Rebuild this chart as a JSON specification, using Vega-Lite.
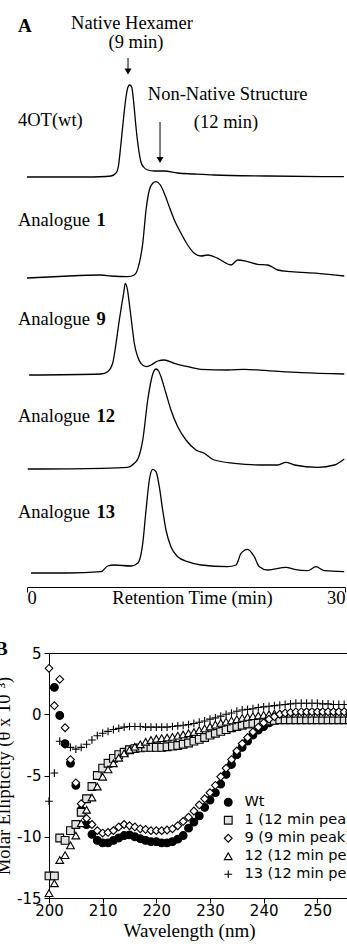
{
  "$schema": "https://vega.github.io/schema/vega-lite/v6.json",
  "background": "white",
  "padding": {"left": -6, "top": 0, "right": 0, "bottom": 0},
  "config": {"view": {"stroke": null}},
  "datasets": {
    "chrom": [
      {"trace":"wt","t":0,"I":0},{"trace":"wt","t":5.09,"I":0},{"trace":"wt","t":7.45,"I":0.5},{"trace":"wt","t":7.92,"I":1},{"trace":"wt","t":8.4,"I":4},{"trace":"wt","t":8.61,"I":10},{"trace":"wt","t":8.87,"I":34},{"trace":"wt","t":9.12,"I":60},{"trace":"wt","t":9.34,"I":80},{"trace":"wt","t":9.53,"I":90},{"trace":"wt","t":9.69,"I":92},{"trace":"wt","t":9.88,"I":90},{"trace":"wt","t":10.07,"I":74},{"trace":"wt","t":10.28,"I":50},{"trace":"wt","t":10.5,"I":30},{"trace":"wt","t":10.75,"I":15},{"trace":"wt","t":11.0,"I":10},{"trace":"wt","t":11.39,"I":7},{"trace":"wt","t":12.0,"I":6},{"trace":"wt","t":12.95,"I":6},{"trace":"wt","t":14.2,"I":4},{"trace":"wt","t":15.78,"I":3},{"trace":"wt","t":17.64,"I":2},{"trace":"wt","t":22.74,"I":1},{"trace":"wt","t":29.9,"I":0.3},
      {"trace":"1","t":0,"I":0},{"trace":"1","t":3,"I":1.5},{"trace":"1","t":6.98,"I":3},{"trace":"1","t":7.92,"I":2},{"trace":"1","t":9.5,"I":1.3},{"trace":"1","t":10.12,"I":3},{"trace":"1","t":10.59,"I":14.7},{"trace":"1","t":10.92,"I":34.7},{"trace":"1","t":11.23,"I":68},{"trace":"1","t":11.54,"I":88},{"trace":"1","t":11.86,"I":94.7},{"trace":"1","t":12.17,"I":96.3},{"trace":"1","t":12.58,"I":93},{"trace":"1","t":12.95,"I":84.7},{"trace":"1","t":13.42,"I":71.3},{"trace":"1","t":13.9,"I":58},{"trace":"1","t":14.53,"I":44.7},{"trace":"1","t":15.16,"I":33},{"trace":"1","t":15.78,"I":24.7},{"trace":"1","t":16.42,"I":22},{"trace":"1","t":17.05,"I":23},{"trace":"1","t":17.99,"I":19.7},{"trace":"1","t":19.25,"I":13},{"trace":"1","t":19.88,"I":18},{"trace":"1","t":20.82,"I":16.3},{"trace":"1","t":21.76,"I":13.7},{"trace":"1","t":22.71,"I":13},{"trace":"1","t":23.65,"I":8},{"trace":"1","t":24.9,"I":6.3},{"trace":"1","t":27.42,"I":4.7},{"trace":"1","t":29.93,"I":2},
      {"trace":"9","t":0.2,"I":0},{"trace":"9","t":6.98,"I":1},{"trace":"9","t":7.61,"I":3.3},{"trace":"9","t":8.08,"I":11.7},{"trace":"9","t":8.4,"I":31.7},{"trace":"9","t":8.71,"I":55},{"trace":"9","t":8.93,"I":70},{"trace":"9","t":9.12,"I":82},{"trace":"9","t":9.27,"I":91.7},{"trace":"9","t":9.48,"I":85},{"trace":"9","t":9.67,"I":70},{"trace":"9","t":9.88,"I":52},{"trace":"9","t":10.12,"I":32},{"trace":"9","t":10.44,"I":18.3},{"trace":"9","t":10.75,"I":11.7},{"trace":"9","t":11.23,"I":8.3},{"trace":"9","t":11.7,"I":10},{"trace":"9","t":12.33,"I":14},{"trace":"9","t":12.95,"I":15},{"trace":"9","t":13.9,"I":11.7},{"trace":"9","t":15.16,"I":8.3},{"trace":"9","t":16.42,"I":5.7},{"trace":"9","t":18.93,"I":5},{"trace":"9","t":20.5,"I":5.7},{"trace":"9","t":22.7,"I":4.3},{"trace":"9","t":25.85,"I":2.3},{"trace":"9","t":29.93,"I":1},
      {"trace":"12","t":0.07,"I":0},{"trace":"12","t":6.98,"I":0.7},{"trace":"12","t":9.5,"I":1.7},{"trace":"12","t":10.12,"I":5.7},{"trace":"12","t":10.5,"I":11},{"trace":"12","t":10.75,"I":20},{"trace":"12","t":10.92,"I":29},{"trace":"12","t":11.39,"I":69},{"trace":"12","t":11.7,"I":88},{"trace":"12","t":11.93,"I":97},{"trace":"12","t":12.17,"I":100},{"trace":"12","t":12.41,"I":98},{"trace":"12","t":12.64,"I":92.3},{"trace":"12","t":13.11,"I":75.7},{"trace":"12","t":13.58,"I":59},{"trace":"12","t":14.22,"I":42.3},{"trace":"12","t":15.0,"I":29},{"trace":"12","t":15.94,"I":19},{"trace":"12","t":16.73,"I":15.7},{"trace":"12","t":17.36,"I":10.7},{"trace":"12","t":17.67,"I":9},{"trace":"12","t":19.56,"I":5.7},{"trace":"12","t":22.08,"I":4},{"trace":"12","t":23.65,"I":4},{"trace":"12","t":24.43,"I":6.7},{"trace":"12","t":25.22,"I":4},{"trace":"12","t":27.42,"I":1.7},{"trace":"12","t":29.0,"I":4},{"trace":"12","t":29.93,"I":10},
      {"trace":"13","t":0.38,"I":0},{"trace":"13","t":3.84,"I":0},{"trace":"13","t":6.98,"I":1.3},{"trace":"13","t":7.61,"I":7},{"trace":"13","t":8.24,"I":8},{"trace":"13","t":9.81,"I":7},{"trace":"13","t":10.44,"I":9.7},{"trace":"13","t":10.92,"I":29.7},{"trace":"13","t":11.23,"I":63},{"trace":"13","t":11.54,"I":93},{"trace":"13","t":11.86,"I":103.7},{"trace":"13","t":12.17,"I":101.3},{"trace":"13","t":12.48,"I":86.3},{"trace":"13","t":12.8,"I":63},{"trace":"13","t":13.11,"I":43},{"trace":"13","t":13.58,"I":26.3},{"trace":"13","t":14.22,"I":16.3},{"trace":"13","t":15.16,"I":11.3},{"trace":"13","t":16.42,"I":8},{"trace":"13","t":18.93,"I":6.3},{"trace":"13","t":19.72,"I":8},{"trace":"13","t":20.19,"I":19.7},{"trace":"13","t":20.82,"I":23.7},{"trace":"13","t":21.44,"I":16.3},{"trace":"13","t":21.92,"I":6.3},{"trace":"13","t":22.71,"I":3},{"trace":"13","t":24.43,"I":5.7},{"trace":"13","t":25.22,"I":3.7},{"trace":"13","t":26.48,"I":2.3},{"trace":"13","t":27.26,"I":6.3},{"trace":"13","t":28.05,"I":2.3},{"trace":"13","t":29.93,"I":1.3}
    ],
    "chromLabels": [
      {"trace":"wt","name":"4OT(wt)","num":"","t":-0.85,"tn":6.55,"I":51},
      {"trace":"1","name":"Analogue","num":"1","t":-0.85,"tn":6.55,"I":52},
      {"trace":"9","name":"Analogue","num":"9","t":-0.85,"tn":6.55,"I":50},
      {"trace":"12","name":"Analogue","num":"12","t":-0.85,"tn":6.55,"I":47},
      {"trace":"13","name":"Analogue","num":"13","t":-0.85,"tn":6.55,"I":55}
    ],
    "notes": [
      {"text":"Native Hexamer","t":9.9,"I":148.5},
      {"text":"(9 min)","t":10.28,"I":129.5},
      {"text":"Non-Native Structure","t":18.93,"I":77},
      {"text":"(12 min)","t":18.77,"I":49}
    ],
    "arrows": [
      {"t":9.53,"top":119,"head":105.5},
      {"t":12.55,"top":55,"head":17}
    ],
    "cd": [
      {"s":"Wt","w":201,"v":2.2},{"s":"Wt","w":202,"v":-0.1},{"s":"Wt","w":203,"v":-2.4},{"s":"Wt","w":204,"v":-4.0},{"s":"Wt","w":205,"v":-5.8},{"s":"Wt","w":206,"v":-7.8},{"s":"Wt","w":207,"v":-9.0},{"s":"Wt","w":208,"v":-9.8},{"s":"Wt","w":209,"v":-10.3},{"s":"Wt","w":210,"v":-10.5},{"s":"Wt","w":211,"v":-10.5},{"s":"Wt","w":212,"v":-10.3},{"s":"Wt","w":213,"v":-10.1},{"s":"Wt","w":214,"v":-9.9},{"s":"Wt","w":215,"v":-9.85},{"s":"Wt","w":216,"v":-10.0},{"s":"Wt","w":217,"v":-10.15},{"s":"Wt","w":218,"v":-10.3},{"s":"Wt","w":219,"v":-10.4},{"s":"Wt","w":220,"v":-10.4},{"s":"Wt","w":221,"v":-10.5},{"s":"Wt","w":222,"v":-10.5},{"s":"Wt","w":223,"v":-10.4},{"s":"Wt","w":224,"v":-10.2},{"s":"Wt","w":225,"v":-9.9},{"s":"Wt","w":226,"v":-9.3},{"s":"Wt","w":227,"v":-8.8},{"s":"Wt","w":228,"v":-8.3},{"s":"Wt","w":229,"v":-7.6},{"s":"Wt","w":230,"v":-7.0},{"s":"Wt","w":231,"v":-6.4},{"s":"Wt","w":232,"v":-5.7},{"s":"Wt","w":233,"v":-4.9},{"s":"Wt","w":234,"v":-4.1},{"s":"Wt","w":235,"v":-3.3},{"s":"Wt","w":236,"v":-2.7},{"s":"Wt","w":237,"v":-2.2},{"s":"Wt","w":238,"v":-1.7},{"s":"Wt","w":239,"v":-1.3},{"s":"Wt","w":240,"v":-1.0},{"s":"Wt","w":241,"v":-0.7},{"s":"Wt","w":242,"v":-0.45},{"s":"Wt","w":243,"v":-0.3},{"s":"Wt","w":244,"v":-0.15},{"s":"Wt","w":245,"v":-0.05},{"s":"Wt","w":246,"v":0.0},{"s":"Wt","w":247,"v":0.05},{"s":"Wt","w":248,"v":0.1},{"s":"Wt","w":249,"v":0.1},{"s":"Wt","w":250,"v":0.1},{"s":"Wt","w":251,"v":0.1},{"s":"Wt","w":252,"v":0.1},{"s":"Wt","w":253,"v":0.1},{"s":"Wt","w":254,"v":0.1},{"s":"Wt","w":255,"v":0.1},{"s":"Wt","w":256,"v":0.1},{"s":"Wt","w":257,"v":0.1},
      {"s":"1","w":200,"v":-13.2},{"s":"1","w":201,"v":-13.2},{"s":"1","w":202,"v":-10.1},{"s":"1","w":203,"v":-10.3},{"s":"1","w":204,"v":-9.5},{"s":"1","w":205,"v":-9.0},{"s":"1","w":206,"v":-8.0},{"s":"1","w":207,"v":-6.9},{"s":"1","w":208,"v":-5.9},{"s":"1","w":209,"v":-5.0},{"s":"1","w":210,"v":-4.4},{"s":"1","w":211,"v":-4.0},{"s":"1","w":212,"v":-3.6},{"s":"1","w":213,"v":-3.3},{"s":"1","w":214,"v":-3.1},{"s":"1","w":215,"v":-2.9},{"s":"1","w":216,"v":-2.8},{"s":"1","w":217,"v":-2.75},{"s":"1","w":218,"v":-2.7},{"s":"1","w":219,"v":-2.7},{"s":"1","w":220,"v":-2.7},{"s":"1","w":221,"v":-2.7},{"s":"1","w":222,"v":-2.65},{"s":"1","w":223,"v":-2.6},{"s":"1","w":224,"v":-2.55},{"s":"1","w":225,"v":-2.45},{"s":"1","w":226,"v":-2.35},{"s":"1","w":227,"v":-2.2},{"s":"1","w":228,"v":-2.05},{"s":"1","w":229,"v":-1.9},{"s":"1","w":230,"v":-1.7},{"s":"1","w":231,"v":-1.55},{"s":"1","w":232,"v":-1.4},{"s":"1","w":233,"v":-1.25},{"s":"1","w":234,"v":-1.1},{"s":"1","w":235,"v":-1.0},{"s":"1","w":236,"v":-0.9},{"s":"1","w":237,"v":-0.8},{"s":"1","w":238,"v":-0.75},{"s":"1","w":239,"v":-0.7},{"s":"1","w":240,"v":-0.62},{"s":"1","w":241,"v":-0.55},{"s":"1","w":242,"v":-0.5},{"s":"1","w":243,"v":-0.45},{"s":"1","w":244,"v":-0.45},{"s":"1","w":245,"v":-0.45},{"s":"1","w":246,"v":-0.45},{"s":"1","w":247,"v":-0.45},{"s":"1","w":248,"v":-0.45},{"s":"1","w":249,"v":-0.45},{"s":"1","w":250,"v":-0.45},{"s":"1","w":251,"v":-0.45},{"s":"1","w":252,"v":-0.45},{"s":"1","w":253,"v":-0.45},{"s":"1","w":254,"v":-0.45},{"s":"1","w":255,"v":-0.45},{"s":"1","w":256,"v":-0.45},{"s":"1","w":257,"v":-0.45},
      {"s":"12","w":200,"v":-14.6},{"s":"12","w":201,"v":-13.8},{"s":"12","w":202,"v":-11.9},{"s":"12","w":203,"v":-11.5},{"s":"12","w":204,"v":-10.7},{"s":"12","w":205,"v":-9.9},{"s":"12","w":206,"v":-8.9},{"s":"12","w":207,"v":-7.8},{"s":"12","w":208,"v":-6.8},{"s":"12","w":209,"v":-5.9},{"s":"12","w":210,"v":-5.1},{"s":"12","w":211,"v":-4.5},{"s":"12","w":212,"v":-4.0},{"s":"12","w":213,"v":-3.55},{"s":"12","w":214,"v":-3.2},{"s":"12","w":215,"v":-2.9},{"s":"12","w":216,"v":-2.65},{"s":"12","w":217,"v":-2.45},{"s":"12","w":218,"v":-2.25},{"s":"12","w":219,"v":-2.1},{"s":"12","w":220,"v":-2.0},{"s":"12","w":221,"v":-1.95},{"s":"12","w":222,"v":-1.9},{"s":"12","w":223,"v":-1.85},{"s":"12","w":224,"v":-1.75},{"s":"12","w":225,"v":-1.65},{"s":"12","w":226,"v":-1.55},{"s":"12","w":227,"v":-1.45},{"s":"12","w":228,"v":-1.3},{"s":"12","w":229,"v":-1.15},{"s":"12","w":230,"v":-1.0},{"s":"12","w":231,"v":-0.85},{"s":"12","w":232,"v":-0.7},{"s":"12","w":233,"v":-0.6},{"s":"12","w":234,"v":-0.5},{"s":"12","w":235,"v":-0.4},{"s":"12","w":236,"v":-0.3},{"s":"12","w":237,"v":-0.22},{"s":"12","w":238,"v":-0.15},{"s":"12","w":239,"v":-0.1},{"s":"12","w":240,"v":-0.05},{"s":"12","w":241,"v":0.0},{"s":"12","w":242,"v":0.05},{"s":"12","w":243,"v":0.05},{"s":"12","w":244,"v":0.05},{"s":"12","w":245,"v":0.05},{"s":"12","w":246,"v":0.05},{"s":"12","w":247,"v":0.05},{"s":"12","w":248,"v":0.05},{"s":"12","w":249,"v":0.05},{"s":"12","w":250,"v":0.05},{"s":"12","w":251,"v":0.05},{"s":"12","w":252,"v":0.05},{"s":"12","w":253,"v":0.05},{"s":"12","w":254,"v":0.05},{"s":"12","w":255,"v":0.05},{"s":"12","w":256,"v":0.05},{"s":"12","w":257,"v":0.05},
      {"s":"9","w":200,"v":3.75},{"s":"9","w":201,"v":0.7},{"s":"9","w":202,"v":2.85},{"s":"9","w":203,"v":-1.1},{"s":"9","w":204,"v":-3.7},{"s":"9","w":205,"v":-5.6},{"s":"9","w":206,"v":-7.3},{"s":"9","w":207,"v":-8.5},{"s":"9","w":208,"v":-9.0},{"s":"9","w":209,"v":-9.5},{"s":"9","w":210,"v":-9.7},{"s":"9","w":211,"v":-9.65},{"s":"9","w":212,"v":-9.5},{"s":"9","w":213,"v":-9.2},{"s":"9","w":214,"v":-9.0},{"s":"9","w":215,"v":-9.1},{"s":"9","w":216,"v":-9.2},{"s":"9","w":217,"v":-9.35},{"s":"9","w":218,"v":-9.4},{"s":"9","w":219,"v":-9.5},{"s":"9","w":220,"v":-9.5},{"s":"9","w":221,"v":-9.5},{"s":"9","w":222,"v":-9.45},{"s":"9","w":223,"v":-9.35},{"s":"9","w":224,"v":-9.1},{"s":"9","w":225,"v":-8.75},{"s":"9","w":226,"v":-8.4},{"s":"9","w":227,"v":-7.9},{"s":"9","w":228,"v":-7.4},{"s":"9","w":229,"v":-6.9},{"s":"9","w":230,"v":-6.4},{"s":"9","w":231,"v":-5.8},{"s":"9","w":232,"v":-5.1},{"s":"9","w":233,"v":-4.4},{"s":"9","w":234,"v":-3.7},{"s":"9","w":235,"v":-3.0},{"s":"9","w":236,"v":-2.4},{"s":"9","w":237,"v":-1.9},{"s":"9","w":238,"v":-1.45},{"s":"9","w":239,"v":-1.05},{"s":"9","w":240,"v":-0.7},{"s":"9","w":241,"v":-0.4},{"s":"9","w":242,"v":-0.2},{"s":"9","w":243,"v":0.0},{"s":"9","w":244,"v":0.1},{"s":"9","w":245,"v":0.15},{"s":"9","w":246,"v":0.2},{"s":"9","w":247,"v":0.2},{"s":"9","w":248,"v":0.2},{"s":"9","w":249,"v":0.2},{"s":"9","w":250,"v":0.2},{"s":"9","w":251,"v":0.2},{"s":"9","w":252,"v":0.2},{"s":"9","w":253,"v":0.2},{"s":"9","w":254,"v":0.2},{"s":"9","w":255,"v":0.2},{"s":"9","w":256,"v":0.2},{"s":"9","w":257,"v":0.2},
      {"s":"13","w":200,"v":-7.1},{"s":"13","w":201,"v":-4.8},{"s":"13","w":202,"v":-2.2},{"s":"13","w":203,"v":-2.5},{"s":"13","w":204,"v":-2.7},{"s":"13","w":205,"v":-2.85},{"s":"13","w":206,"v":-2.7},{"s":"13","w":207,"v":-2.45},{"s":"13","w":208,"v":-2.1},{"s":"13","w":209,"v":-1.75},{"s":"13","w":210,"v":-1.55},{"s":"13","w":211,"v":-1.4},{"s":"13","w":212,"v":-1.25},{"s":"13","w":213,"v":-1.15},{"s":"13","w":214,"v":-1.05},{"s":"13","w":215,"v":-1.0},{"s":"13","w":216,"v":-1.0},{"s":"13","w":217,"v":-1.0},{"s":"13","w":218,"v":-1.05},{"s":"13","w":219,"v":-1.05},{"s":"13","w":220,"v":-1.05},{"s":"13","w":221,"v":-1.05},{"s":"13","w":222,"v":-1.05},{"s":"13","w":223,"v":-1.0},{"s":"13","w":224,"v":-0.95},{"s":"13","w":225,"v":-0.9},{"s":"13","w":226,"v":-0.85},{"s":"13","w":227,"v":-0.75},{"s":"13","w":228,"v":-0.65},{"s":"13","w":229,"v":-0.55},{"s":"13","w":230,"v":-0.4},{"s":"13","w":231,"v":-0.3},{"s":"13","w":232,"v":-0.15},{"s":"13","w":233,"v":0.0},{"s":"13","w":234,"v":0.1},{"s":"13","w":235,"v":0.25},{"s":"13","w":236,"v":0.35},{"s":"13","w":237,"v":0.4},{"s":"13","w":238,"v":0.45},{"s":"13","w":239,"v":0.55},{"s":"13","w":240,"v":0.6},{"s":"13","w":241,"v":0.65},{"s":"13","w":242,"v":0.7},{"s":"13","w":243,"v":0.75},{"s":"13","w":244,"v":0.8},{"s":"13","w":245,"v":0.85},{"s":"13","w":246,"v":0.9},{"s":"13","w":247,"v":0.9},{"s":"13","w":248,"v":0.9},{"s":"13","w":249,"v":0.9},{"s":"13","w":250,"v":0.9},{"s":"13","w":251,"v":0.85},{"s":"13","w":252,"v":0.85},{"s":"13","w":253,"v":0.8},{"s":"13","w":254,"v":0.8},{"s":"13","w":255,"v":0.8},{"s":"13","w":256,"v":0.8},{"s":"13","w":257,"v":0.8}
    ]
  },
  "spacing": 66,
  "bounds": "flush",
  "vconcat": [
    {
      "width": 296,
      "height": 587,
      "encoding": {
        "x": {
          "field": "t", "type": "quantitative",
          "scale": {"domain": [0, 30], "range": [-22, 296], "nice": false, "zero": false},
          "axis": {
            "values": [0, 30], "title": "Retention Time (min)", "grid": false,
            "titleFont": "Liberation Serif", "titleFontSize": 18.5, "titleFontWeight": "normal", "titleColor": "black",
            "titleX": 143, "titleY": 16, "titleBaseline": "alphabetic", "titleAlign": "center",
            "labelFont": "Liberation Serif", "labelFontSize": 18.5, "labelColor": "black", "labelFlush": true,
            "labelBaseline": "alphabetic", "labelPadding": 11, "tickSize": 5, "tickColor": "black",
            "domainColor": "black", "labelOverlap": false
          }
        }
      },
      "layer": [
        {
          "encoding": {"y": {"field": "I", "type": "quantitative", "scale": {"domain": [-410, 177], "nice": false, "zero": false}, "axis": null}},
          "layer": [
            {"data": {"name": "chrom"}, "transform": [{"filter": "datum.trace === 'wt'"}], "mark": {"type": "line", "color": "black", "strokeWidth": 1.3, "interpolate": "monotone"}},
            {"data": {"name": "chromLabels"}, "transform": [{"filter": "datum.trace === 'wt'"}], "mark": {"type": "text", "align": "left", "baseline": "alphabetic", "font": "Liberation Serif", "fontSize": 18.5, "color": "black"}, "encoding": {"text": {"field": "name"}}},
            {"data": {"name": "notes"}, "mark": {"type": "text", "align": "center", "baseline": "alphabetic", "font": "Liberation Serif", "fontSize": 18.5, "color": "black"}, "encoding": {"text": {"field": "text"}}},
            {"data": {"values": [{"t": -0.85, "I": 145, "label": "A"}]}, "mark": {"type": "text", "align": "left", "baseline": "alphabetic", "font": "Liberation Serif", "fontSize": 19, "fontWeight": "bold", "color": "black"}, "encoding": {"text": {"field": "label"}}},
            {"data": {"name": "arrows"}, "mark": {"type": "rule", "color": "black", "strokeWidth": 1}, "encoding": {"y": {"field": "top", "type": "quantitative", "scale": {"domain": [-410, 177], "nice": false, "zero": false}, "axis": null}, "y2": {"field": "head"}}},
            {"data": {"name": "arrows"}, "mark": {"type": "point", "shape": "triangle-down", "filled": true, "color": "black", "size": 50, "opacity": 1}, "encoding": {"y": {"field": "head", "type": "quantitative", "scale": {"domain": [-410, 177], "nice": false, "zero": false}, "axis": null}}}
          ]
        },
        {
          "encoding": {"y": {"field": "I", "type": "quantitative", "scale": {"domain": [-309, 278], "nice": false, "zero": false}, "axis": null}},
          "layer": [
            {"data": {"name": "chrom"}, "transform": [{"filter": "datum.trace === '1'"}], "mark": {"type": "line", "color": "black", "strokeWidth": 1.3, "interpolate": "monotone"}},
            {"data": {"name": "chromLabels"}, "transform": [{"filter": "datum.trace === '1'"}], "mark": {"type": "text", "align": "left", "baseline": "alphabetic", "font": "Liberation Serif", "fontSize": 18.5, "color": "black"}, "encoding": {"text": {"field": "name"}}},
            {"data": {"name": "chromLabels"}, "transform": [{"filter": "datum.trace === '1'"}], "mark": {"type": "text", "align": "left", "baseline": "alphabetic", "font": "Liberation Serif", "fontSize": 18.5, "fontWeight": "bold", "color": "black"}, "encoding": {"x": {"field": "tn", "type": "quantitative"}, "text": {"field": "num"}}}
          ]
        },
        {
          "encoding": {"y": {"field": "I", "type": "quantitative", "scale": {"domain": [-212, 375], "nice": false, "zero": false}, "axis": null}},
          "layer": [
            {"data": {"name": "chrom"}, "transform": [{"filter": "datum.trace === '9'"}], "mark": {"type": "line", "color": "black", "strokeWidth": 1.3, "interpolate": "monotone"}},
            {"data": {"name": "chromLabels"}, "transform": [{"filter": "datum.trace === '9'"}], "mark": {"type": "text", "align": "left", "baseline": "alphabetic", "font": "Liberation Serif", "fontSize": 18.5, "color": "black"}, "encoding": {"text": {"field": "name"}}},
            {"data": {"name": "chromLabels"}, "transform": [{"filter": "datum.trace === '9'"}], "mark": {"type": "text", "align": "left", "baseline": "alphabetic", "font": "Liberation Serif", "fontSize": 18.5, "fontWeight": "bold", "color": "black"}, "encoding": {"x": {"field": "tn", "type": "quantitative"}, "text": {"field": "num"}}}
          ]
        },
        {
          "encoding": {"y": {"field": "I", "type": "quantitative", "scale": {"domain": [-118, 469], "nice": false, "zero": false}, "axis": null}},
          "layer": [
            {"data": {"name": "chrom"}, "transform": [{"filter": "datum.trace === '12'"}], "mark": {"type": "line", "color": "black", "strokeWidth": 1.3, "interpolate": "monotone"}},
            {"data": {"name": "chromLabels"}, "transform": [{"filter": "datum.trace === '12'"}], "mark": {"type": "text", "align": "left", "baseline": "alphabetic", "font": "Liberation Serif", "fontSize": 18.5, "color": "black"}, "encoding": {"text": {"field": "name"}}},
            {"data": {"name": "chromLabels"}, "transform": [{"filter": "datum.trace === '12'"}], "mark": {"type": "text", "align": "left", "baseline": "alphabetic", "font": "Liberation Serif", "fontSize": 18.5, "fontWeight": "bold", "color": "black"}, "encoding": {"x": {"field": "tn", "type": "quantitative"}, "text": {"field": "num"}}}
          ]
        },
        {
          "encoding": {"y": {"field": "I", "type": "quantitative", "scale": {"domain": [-14, 573], "nice": false, "zero": false}, "axis": null}},
          "layer": [
            {"data": {"name": "chrom"}, "transform": [{"filter": "datum.trace === '13'"}], "mark": {"type": "line", "color": "black", "strokeWidth": 1.3, "interpolate": "monotone"}},
            {"data": {"name": "chromLabels"}, "transform": [{"filter": "datum.trace === '13'"}], "mark": {"type": "text", "align": "left", "baseline": "alphabetic", "font": "Liberation Serif", "fontSize": 18.5, "color": "black"}, "encoding": {"text": {"field": "name"}}},
            {"data": {"name": "chromLabels"}, "transform": [{"filter": "datum.trace === '13'"}], "mark": {"type": "text", "align": "left", "baseline": "alphabetic", "font": "Liberation Serif", "fontSize": 18.5, "fontWeight": "bold", "color": "black"}, "encoding": {"x": {"field": "tn", "type": "quantitative"}, "text": {"field": "num"}}}
          ]
        }
      ],
      "resolve": {"scale": {"y": "independent"}}
    },
    {
      "width": 322,
      "height": 245,
      "view": {"stroke": "black", "strokeWidth": 1},
      "encoding": {
        "x": {
          "field": "w", "type": "quantitative",
          "scale": {"domain": [200, 260], "nice": false, "zero": false},
          "axis": {
            "values": [200, 210, 220, 230, 240, 250, 260], "title": "Wavelength (nm)", "grid": false,
            "titleFont": "Liberation Serif", "titleFontSize": 19, "titleFontWeight": "normal", "titleColor": "black",
            "titleX": 140, "titleY": 38, "titleBaseline": "alphabetic", "titleAlign": "center",
            "labelFont": "DejaVu Sans", "labelFontSize": 15, "labelColor": "black", "labelBaseline": "alphabetic",
            "labelPadding": 12, "labelDx": 4, "tickSize": 5, "tickColor": "black", "domainColor": "black", "labelFlush": false, "labelOverlap": false
          }
        },
        "y": {
          "field": "v", "type": "quantitative",
          "scale": {"domain": [-15, 5], "nice": false, "zero": false},
          "axis": {
            "values": [-15, -10, -5, 0, 5], "title": "Molar Ellipticity (θ x 10⁻³)", "grid": false,
            "titleFont": "Liberation Serif", "titleFontSize": 18.5, "titleFontWeight": "normal", "titleColor": "black", "titlePadding": 3,
            "labelFont": "DejaVu Sans", "labelFontSize": 15, "labelColor": "black", "labelPadding": 3, "labelExpr": "'' + datum.value",
            "tickSize": 5, "tickColor": "black", "domainColor": "black", "labelOverlap": false
          }
        }
      },
      "layer": [
        {
          "data": {"name": "cd"},
          "mark": {"type": "point", "opacity": 1, "strokeWidth": 1.1},
          "encoding": {
            "shape": {
              "field": "s", "type": "nominal",
              "scale": {"domain": ["Wt", "1", "9", "12", "13"], "range": ["circle", "square", "diamond", "triangle-up", "M-1,0H1M0,-1V1"]},
              "legend": {"orient": "none", "legendX": 172, "legendY": 795, "title": null, "padding": 0, "labelFont": "DejaVu Sans", "labelFontSize": 14.5, "labelColor": "black", "symbolSize": 60, "symbolStrokeWidth": 1.1, "rowPadding": 3, "labelOffset": 9, "labelLimit": 300, "labelExpr": "datum.label == 'Wt' ? 'Wt' : (datum.label == '9' ? '9 (9 min peak)' : datum.label + ' (12 min peak)')"}
            },
            "fill": {
              "field": "s", "type": "nominal",
              "scale": {"domain": ["Wt", "1", "9", "12", "13"], "range": ["black", "#e2e2e2", "white", "white", "transparent"]},
              "legend": {"orient": "none", "legendX": 172, "legendY": 795, "title": null, "padding": 0, "labelFont": "DejaVu Sans", "labelFontSize": 14.5, "labelColor": "black", "symbolSize": 60, "symbolStrokeWidth": 1.1, "rowPadding": 3, "labelOffset": 9, "labelLimit": 300, "labelExpr": "datum.label == 'Wt' ? 'Wt' : (datum.label == '9' ? '9 (9 min peak)' : datum.label + ' (12 min peak)')"}
            },
            "stroke": {
              "field": "s", "type": "nominal",
              "scale": {"domain": ["Wt", "1", "9", "12", "13"], "range": ["black", "black", "black", "black", "black"]},
              "legend": {"orient": "none", "legendX": 172, "legendY": 795, "title": null, "padding": 0, "labelFont": "DejaVu Sans", "labelFontSize": 14.5, "labelColor": "black", "symbolSize": 60, "symbolStrokeWidth": 1.1, "rowPadding": 3, "labelOffset": 9, "labelLimit": 300, "labelExpr": "datum.label == 'Wt' ? 'Wt' : (datum.label == '9' ? '9 (9 min peak)' : datum.label + ' (12 min peak)')"}
            },
            "size": {"value": 60}
          }
        },
        {
          "data": {"values": [{"w": 191.1, "v": 4.84, "label": "B"}]},
          "mark": {"type": "text", "font": "Liberation Serif", "fontWeight": "bold", "fontSize": 19, "align": "center", "baseline": "alphabetic", "color": "black"},
          "encoding": {"text": {"field": "label"}}
        }
      ]
    }
  ]
}
